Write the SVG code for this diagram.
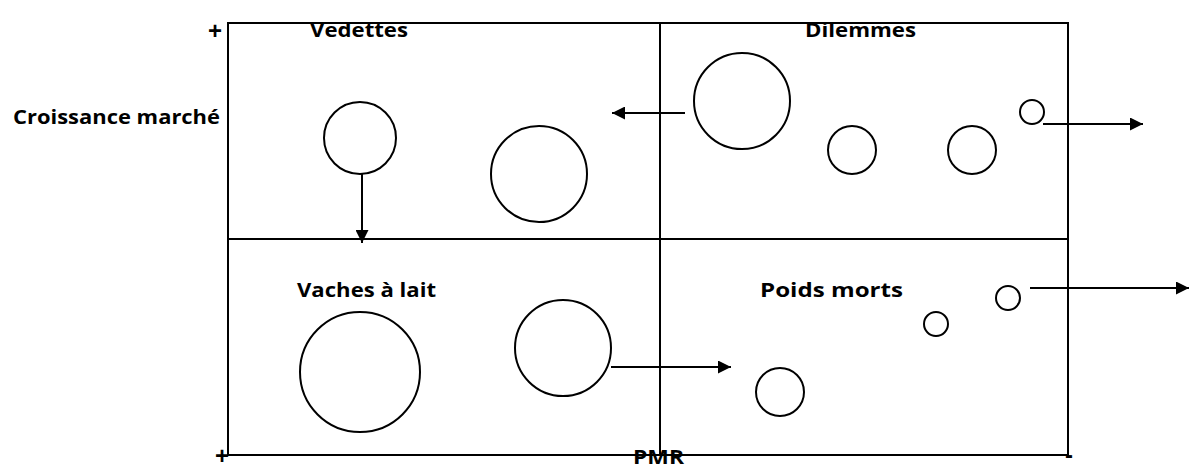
<svg xmlns="http://www.w3.org/2000/svg" width="1189" height="467" viewBox="0 0 1189 467">
<style>
.l{stroke:#000;stroke-width:2;fill:none}
.c{stroke:#000;stroke-width:2;fill:#fff}
.t{font-family:"Open Sans","Liberation Sans",sans-serif;font-weight:bold;font-size:19px;fill:#000}
.p{font-family:"Liberation Sans",sans-serif;font-weight:bold;font-size:24px;fill:#000}
</style>
<defs>
<marker id="a" viewBox="0 0 10 10" refX="10" refY="5" markerWidth="7" markerHeight="6.5" orient="auto" markerUnits="strokeWidth">
<path d="M0,0L10,5L0,10z" fill="#000"/>
</marker>
</defs>
<g id="frame">
<rect class="l" x="228" y="23" width="840" height="432"/>
<line class="l" x1="660" y1="23" x2="660" y2="455"/>
<line class="l" x1="228" y1="239" x2="1068" y2="239"/>
</g>
<g id="labels">
<text class="p" x="208" y="39">+</text>
<text class="t" x="310" y="37" textLength="98" lengthAdjust="spacingAndGlyphs">Vedettes</text>
<text class="t" x="805" y="37" textLength="111" lengthAdjust="spacingAndGlyphs">Dilemmes</text>
<text class="t" x="13" y="124" textLength="207" lengthAdjust="spacingAndGlyphs">Croissance marché</text>
<text class="t" x="297" y="297" textLength="139" lengthAdjust="spacingAndGlyphs">Vaches à lait</text>
<text class="t" x="760" y="297" textLength="143" lengthAdjust="spacingAndGlyphs">Poids morts</text>
<text class="p" x="215" y="464" font-size="20">+</text>
<text class="t" x="633" y="464" font-size="15" textLength="51" lengthAdjust="spacingAndGlyphs">PMR</text>
<text class="p" x="1065" y="463" font-size="20">-</text>
</g>
<g id="connectors">
<line class="l" x1="362" y1="174" x2="362" y2="243" marker-end="url(#a)"/>
<line class="l" x1="685" y1="113" x2="612" y2="113" marker-end="url(#a)"/>
<line class="l" x1="1043" y1="124" x2="1143" y2="124" marker-end="url(#a)"/>
<line class="l" x1="611" y1="367" x2="731" y2="367" marker-end="url(#a)"/>
<line class="l" x1="1030" y1="288" x2="1189" y2="288" marker-end="url(#a)"/>
</g>
<g id="n1"><circle class="c" cx="360" cy="138" r="36"/></g>
<g id="n2"><circle class="c" cx="539" cy="174" r="48"/></g>
<g id="n3"><circle class="c" cx="742" cy="101" r="48"/></g>
<g id="n4"><circle class="c" cx="852" cy="150" r="24"/></g>
<g id="n5"><circle class="c" cx="972" cy="150" r="24"/></g>
<g id="n6"><circle class="c" cx="1032" cy="112" r="12"/></g>
<g id="n7"><circle class="c" cx="360" cy="372" r="60"/></g>
<g id="n8"><circle class="c" cx="563" cy="348" r="48"/></g>
<g id="n9"><circle class="c" cx="936" cy="324" r="12"/></g>
<g id="n10"><circle class="c" cx="1008" cy="298" r="12"/></g>
<g id="n11"><circle class="c" cx="780" cy="392" r="24"/></g>
</svg>
